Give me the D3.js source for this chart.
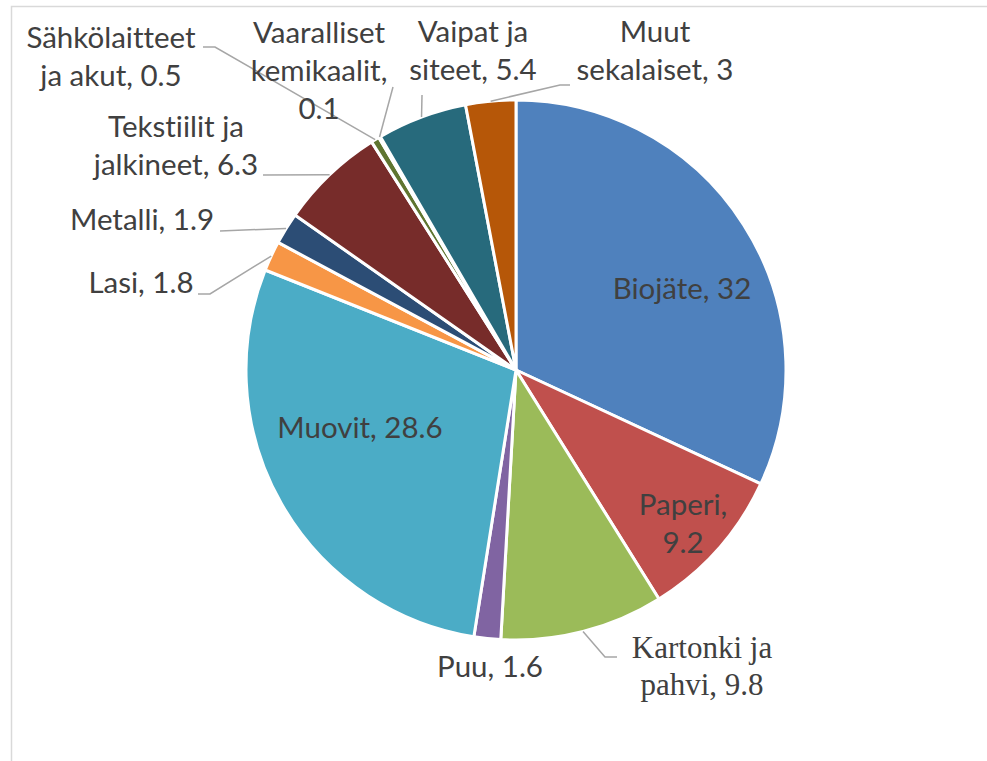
<!DOCTYPE html>
<html>
<head>
<meta charset="utf-8">
<script src="https://cdn.jsdelivr.net/npm/d3@7"></script>
<style>
  html, body { margin: 0; padding: 0; background: #fff; }
  svg { display: block; }
  text { font-variant-ligatures: none; }
</style>
</head>
<body>
<div id="chart"></div>
<script>
(function() {

    // data
    var categories = ["Biojäte", "Paperi", "Kartonki ja pahvi", "Puu", "Muovit", "Lasi",
        "Metalli", "Tekstiilit ja jalkineet", "Sähkölaitteet ja akut",
        "Vaaralliset kemikaalit", "Vaipat ja siteet", "Muut sekalaiset"];
    var values = [32, 9.2, 9.8, 1.6, 28.6, 1.8, 1.9, 6.3, 0.5, 0.1, 5.4, 3];
    var colors = ["#4F81BD", "#C0504D", "#9BBB59", "#8064A2", "#4BACC6", "#F79646",
        "#2C4D75", "#772C2A", "#5F7530", "#4D3B62", "#276A7C", "#B65708"];

    const W = 987, H = 761;
    const CX = 516, CY = 370, R = 270;
    const LINE_H = 38;

    // label placement: centre x, first baseline y, words per line, leader elbow points
    var labelLayout = {
        "Biojäte":                 {x: 682, y: 299, words: [2]},
        "Paperi":                  {x: 683, y: 515, words: [1, 1]},
        "Kartonki ja pahvi":       {x: 702, y: 658, words: [2, 2], serif: true, lead: [[617, 657], [605, 657]]},
        "Puu":                     {x: 490, y: 677, words: [2]},
        "Muovit":                  {x: 360, y: 438, words: [2]},
        "Lasi":                    {x: 141, y: 293, words: [2], lead: [[198, 294], [210, 294]]},
        "Metalli":                 {x: 142, y: 230, words: [2], lead: [[220, 231]]},
        "Tekstiilit ja jalkineet": {x: 176, y: 137, words: [2, 2], lead: [[263, 175]]},
        "Sähkölaitteet ja akut":   {x: 111, y: 48, words: [1, 3], lead: [[203, 47], [215, 47]]},
        "Vaaralliset kemikaalit":  {x: 319, y: 43, words: [1, 1, 1], lead: [[393, 87]]},
        "Vaipat ja siteet":        {x: 473, y: 42, words: [2, 2], lead: [[422, 95]]},
        "Muut sekalaiset":         {x: 655, y: 42, words: [1, 2], lead: [[570, 85], [560, 85]]}
    };

    var rows = categories.map(function(c, i) {
        return {cat: c, value: values[i], color: colors[i]};
    });

    var svg = d3.select("#chart").append("svg")
        .attr("width", W)
        .attr("height", H);

    // chart area frame (only top and left edges fall inside the picture)
    svg.append("rect")
        .attr("x", 11.5).attr("y", 6.5)
        .attr("width", 1000).attr("height", 1000)
        .attr("fill", "none")
        .attr("stroke", "#D9D9D9")
        .attr("stroke-width", 1.5);

    var pie = d3.pie().sort(null).value(function(d) { return d.value; });
    var arcs = pie(rows);
    var arc = d3.arc().innerRadius(0).outerRadius(R);

    var g = svg.append("g").attr("transform", "translate(" + CX + "," + CY + ")");

    g.selectAll("path.slice")
        .data(arcs)
        .enter()
        .append("path")
        .attr("class", "slice")
        .attr("d", arc)
        .attr("fill", function(d) { return d.data.color; })
        .attr("stroke", "#fff")
        .attr("stroke-width", 3)
        .attr("stroke-linejoin", "round");

    // leader lines
    arcs.forEach(function(d) {
        var lay = labelLayout[d.data.cat];
        if (!lay.lead) return;
        var mid = (d.startAngle + d.endAngle) / 2;
        var px = CX + R * Math.sin(mid);
        var py = CY - R * Math.cos(mid);
        var pts = lay.lead.concat([[px, py]]);
        svg.append("path")
            .attr("d", d3.line()(pts))
            .attr("fill", "none")
            .attr("stroke", "#A6A6A6")
            .attr("stroke-width", 1.5);
    });

    // data labels
    arcs.forEach(function(d) {
        var lay = labelLayout[d.data.cat];
        var words = (d.data.cat + ", " + d.data.value).split(" ");
        var lines = [], k = 0;
        lay.words.forEach(function(n) {
            lines.push(words.slice(k, k + n).join(" "));
            k += n;
        });
        var t = svg.append("text")
            .attr("text-anchor", "middle")
            .attr("fill", "#404040")
            .style("font-family", lay.serif ? "'Liberation Serif', serif" : "Lato, sans-serif")
            .style("font-size", lay.serif ? "31px" : "29.5px");
        lines.forEach(function(s, i) {
            t.append("tspan")
                .attr("x", lay.x)
                .attr("y", lay.y + i * (lay.serif ? 37 : LINE_H))
                .text(s);
        });
    });

})();
</script>
</body>
</html>
